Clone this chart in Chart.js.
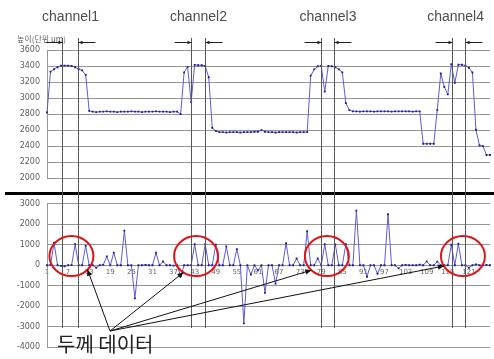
<!DOCTYPE html>
<html>
<head>
<meta charset="utf-8">
<script src="https://cdn.jsdelivr.net/npm/chart.js@4.4.0/dist/chart.umd.min.js"></script>
<style>
  html, body { margin: 0; padding: 0; background: #fff; }
  #wrap { position: relative; width: 494px; height: 359px; overflow: hidden; }
  canvas { position: absolute; left: 0; }
  #topChart { top: 0; }
  #bottomChart { top: 192px; }
  #overlay { top: 0; }
</style>
</head>
<body>
<div id="wrap">
  <canvas id="topChart" width="494" height="190"></canvas>
  <canvas id="bottomChart" width="494" height="167"></canvas>
  <canvas id="overlay" width="494" height="359"></canvas>
</div>
<script>
// measurement positions along the scan (1..127)
const positions = Array.from({ length: 127 }, (_, i) => String(i + 1));
const xTickLabels = ['1', '7', '13', '19', '25', '31', '37', '43', '49', '55', '61', '67', '73',
  '79', '85', '91', '97', '103', '109', '115', '121'];

// height profile (um)
const heightValues = [
  2820, 3330, 3360, 3385, 3405, 3405, 3405, 3400, 3385, 3360,
  3345, 3290, 2840, 2830, 2825, 2830, 2830, 2835, 2830, 2830,
  2825, 2830, 2830, 2830, 2835, 2830, 2830, 2825, 2830, 2830,
  2830, 2835, 2830, 2830, 2830, 2825, 2830, 2830, 2800, 3320,
  3390, 2950, 3415, 3410, 3410, 3400, 3260, 2630, 2590, 2575,
  2575, 2570, 2575, 2575, 2575, 2570, 2575, 2575, 2575, 2580,
  2580, 2600, 2580, 2575, 2575, 2570, 2575, 2575, 2575, 2575,
  2575, 2570, 2575, 2575, 2575, 3280, 3358, 3397, 3400, 3080,
  3400, 3397, 3385, 3358, 3320, 2936, 2850, 2835, 2835, 2830,
  2835, 2835, 2835, 2830, 2835, 2835, 2835, 2835, 2830, 2835,
  2835, 2835, 2835, 2835, 2830, 2835, 2835, 2430, 2430, 2430,
  2430, 2850, 3307, 3140, 3046, 3424, 3190, 3416, 3416, 3405,
  3378, 3319, 2605, 2410, 2400, 2290, 2290
];

// thickness data
const thicknessValues = [
  0, 20, 1100, 0, -30, -50, 0, 10, 1030, 0,
  0, 950, 0, 0, -120, 0, 20, 430, 0, 615,
  0, 0, 1690, 0, 0, -1615, 0, 0, 20, 0,
  0, 615, 0, 185, 0, 0, -20, 0, -540, 0,
  0, 0, 1030, 0, 0, 1030, 0, 0, 1000, 0,
  0, 920, 0, 0, 790, 0, -2840, 0, -450, 0,
  -250, 0, -1350, 0, 0, -900, 0, 0, 1075, 0,
  0, 330, 0, 0, 1660, 0, 0, 330, 0, 1030,
  0, 0, 1020, 0, 0, 1035, 0, 0, 2670, 0,
  0, -560, 0, 0, -415, 0, 0, 2490, 0, 0,
  -150, 0, 20, 0, 0, 0, 30, 0, 190, 0,
  0, 180, 0, 0, 0, 1000, 0, 1050, 0, 0,
  -120, 0, 40, 0, 0, 20, 0
];

const heightTicks = [2000, 2200, 2400, 2600, 2800, 3000, 3200, 3400, 3600];
const thicknessTicks = [-4000, -3000, -2000, -1000, 0, 1000, 2000, 3000];

// channel windows, in scan positions
const channelNames = ['channel1', 'channel2', 'channel3', 'channel4'];
const channelStart = [5.4, 42.0, 79.0, 116.2];
const channelEnd = [9.8, 45.8, 82.6, 119.9];
const peakCircleAt = [7.95, 43.4, 80.6, 119.3];
const peakCircleLevel = 450;

const lineBlue = '#5c5cd6';
const dotBlue = '#1e1e8e';
const gridGray = '#969696';
const tickFont = { family: 'DejaVu Sans', size: 8 };

function seriesOf(values) {
  return {
    data: values,
    borderColor: lineBlue,
    borderWidth: 1,
    pointStyle: 'rect',
    pointRadius: 1.3,
    pointBorderWidth: 0,
    pointBackgroundColor: dotBlue,
    pointBorderColor: dotBlue,
    tension: 0
  };
}

function yAxis(min, max, ticks) {
  return {
    min: min,
    max: max,
    afterBuildTicks: s => { s.ticks = ticks.map(v => ({ value: v })); },
    afterFit: s => { s.width = 47; },
    grid: { color: gridGray, drawTicks: false },
    border: { color: gridGray },
    ticks: { padding: 7, color: '#5e5e5e', font: tickFont, callback: v => String(v) }
  };
}

const baseOptions = {
  responsive: false,
  animation: false,
  events: [],
  plugins: { legend: { display: false }, tooltip: { enabled: false } }
};

const topChart = new Chart(document.getElementById('topChart'), {
  type: 'line',
  data: { labels: positions, datasets: [seriesOf(heightValues)] },
  options: {
    ...baseOptions,
    layout: { padding: { left: 0, right: 3, top: 50, bottom: 3 } },
    scales: {
      x: { display: false },
      y: yAxis(2000, 3600, heightTicks)
    }
  }
});

const bottomChart = new Chart(document.getElementById('bottomChart'), {
  type: 'line',
  data: { labels: positions, datasets: [seriesOf(thicknessValues)] },
  options: {
    ...baseOptions,
    layout: { padding: { left: 0, right: 3, top: 8, bottom: 8 } },
    scales: {
      x: {
        position: { y: 0 },
        grid: { display: false, drawTicks: true, tickLength: 3 },
        border: { display: false },
        ticks: {
          autoSkip: false,
          maxRotation: 0,
          padding: 0,
          color: '#666',
          font: { family: 'DejaVu Sans', size: 7 },
          callback: (v, i) => xTickLabels.includes(positions[i]) ? positions[i] : ''
        }
      },
      y: yAxis(-4000, 3000, thicknessTicks)
    }
  }
});

// annotations drawn over both charts
const ctx = document.getElementById('overlay').getContext('2d');
const bottomOffset = 192;
const xScale = bottomChart.scales.x;
const px = pos => xScale.getPixelForValue(pos - 1);

function arrow(x0, y0, x1, y1, head) {
  const a = Math.atan2(y1 - y0, x1 - x0);
  ctx.beginPath();
  ctx.moveTo(x0, y0);
  ctx.lineTo(x1, y1);
  ctx.stroke();
  ctx.beginPath();
  ctx.moveTo(x1, y1);
  ctx.lineTo(x1 - head * Math.cos(a) + head * 0.45 * Math.sin(a), y1 - head * Math.sin(a) - head * 0.45 * Math.cos(a));
  ctx.lineTo(x1 - head * Math.cos(a) - head * 0.45 * Math.sin(a), y1 - head * Math.sin(a) + head * 0.45 * Math.cos(a));
  ctx.closePath();
  ctx.fill();
}

// axis caption of the height chart
ctx.fillStyle = '#666';
ctx.font = '8px "Noto Sans CJK KR"';
ctx.textAlign = 'left';
ctx.fillText('높이(단위 um)', 17, 42);

// divider between the two charts
ctx.fillStyle = '#000';
ctx.fillRect(5, 192, 489, 3);

// channel windows
channelNames.forEach((name, k) => {
  const xa = Math.round(px(channelStart[k])) + 0.5;
  const xb = Math.round(px(channelEnd[k])) + 0.5;

  ctx.strokeStyle = '#555';
  ctx.lineWidth = 1;
  ctx.beginPath();
  ctx.moveTo(xa, 38); ctx.lineTo(xa, 328);
  ctx.moveTo(xb, 38); ctx.lineTo(xb, 328);
  ctx.stroke();

  ctx.strokeStyle = '#222';
  ctx.fillStyle = '#222';
  arrow(xa - 17, 42.5, xa, 42.5, 4);
  arrow(xb + 17, 42.5, xb, 42.5, 4);

  ctx.fillStyle = '#4d4d4d';
  ctx.font = '14px "Liberation Sans", Arial, sans-serif';
  ctx.textAlign = 'center';
  const w = ctx.measureText(name).width;
  const cx = Math.min((xa + xb) / 2, 484 - w / 2);
  ctx.fillText(name, cx, 21);
});

// circles round the channel peaks
const circleY = bottomChart.scales.y.getPixelForValue(peakCircleLevel) + bottomOffset;
const pointerAngles = [43, 125, 135, 150];
const pointerEnds = [];
ctx.strokeStyle = '#e01414';
ctx.lineWidth = 2;
peakCircleAt.forEach((pos, k) => {
  const cx = px(pos);
  ctx.beginPath();
  ctx.ellipse(cx, circleY, 22, 20, 0, 0, Math.PI * 2);
  ctx.stroke();
  const a = pointerAngles[k] * Math.PI / 180;
  pointerEnds.push([cx + Math.cos(a) * 22, circleY + Math.sin(a) * 20]);
});

// caption with pointers
ctx.strokeStyle = '#111';
ctx.fillStyle = '#111';
ctx.lineWidth = 1;
pointerEnds.forEach(([x, y]) => arrow(110, 331, x, y, 6));

ctx.fillStyle = '#222';
ctx.font = '20px "Noto Sans CJK KR"';
ctx.textAlign = 'left';
ctx.fillText('두께 데이터', 57, 352);
</script>
</body>
</html>
